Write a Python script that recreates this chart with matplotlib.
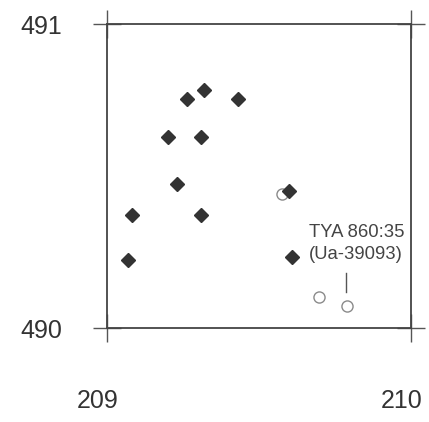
import matplotlib
matplotlib.use("Agg")
import matplotlib.pyplot as plt
from matplotlib.transforms import ScaledTranslation

plt.rcParams['font.family'] = ['Liberation Sans', 'DejaVu Sans']

# filled diamonds
dia_x = [209.262, 209.319, 209.432, 209.202, 209.309, 209.229, 209.599,
         209.081, 209.309, 209.070, 209.608]
dia_y = [490.753, 490.783, 490.753, 490.628, 490.628, 490.473, 490.452,
         490.372, 490.372, 490.224, 490.233]

# open circles
circ_x = [209.577, 209.697, 209.788]
circ_y = [490.440, 490.101, 490.073]

label_text = "TYA 860:35\n(Ua-39093)"

fig = plt.figure(figsize=(4.29, 4.22), dpi=100)
ax = fig.add_axes([107/429, 94/422, 304/429, 304/422])

ax.plot(circ_x, circ_y, 'o', ms=8, mfc='white', mec='#8a8a8a', mew=1.0, zorder=2)
ax.plot(dia_x, dia_y, 'D', ms=7.3, color='#333333', zorder=3)

# pointer line and label
ax.plot([209.785, 209.785], [490.117, 490.181], color='#555555', lw=1.0)
ax.text(209.665, 490.278, label_text, fontsize=13.3, color='#444444',
        ha='left', va='center', linespacing=1.4)

ax.set_xlim(209, 210)
ax.set_ylim(490, 491)
ax.set_xticks([209, 210])
ax.set_yticks([490, 491])
ax.set_xticklabels(['209', '210'])
ax.set_yticklabels(['490', '491'])

for s in ax.spines.values():
    s.set_color('#444444')
    s.set_linewidth(1.3)

ax.tick_params(axis='both', direction='inout', length=20, width=1.0,
               color='#555555', labelsize=18, labelcolor='#333333',
               top=True, right=True)
ax.tick_params(axis='x', pad=34)
ax.tick_params(axis='y', pad=22)

for lab in ax.get_xticklabels():
    lab.set_transform(lab.get_transform() + ScaledTranslation(-0.09, 0, fig.dpi_scale_trans))

fig.savefig('out.png', dpi=100)
